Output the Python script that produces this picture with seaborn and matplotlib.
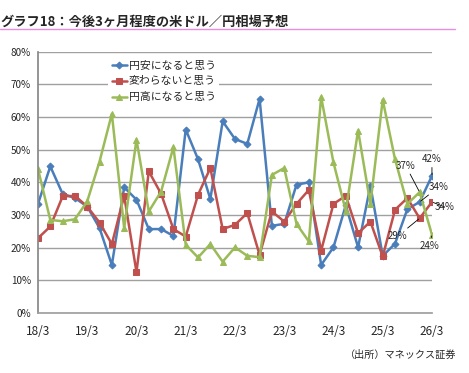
import numpy as np
import pandas as pd
import seaborn as sns
import matplotlib.pyplot as plt
from matplotlib.lines import Line2D

# quarterly survey, 18/3 .. 26/3
tick_labels = ['18/3', '19/3', '20/3', '21/3', '22/3', '23/3', '24/3', '25/3', '26/3']

yen_weak = [33.4, 44.9, 36.5, 35.2, 32.6, 26.0, 14.7, 38.5, 34.7, 25.7, 25.7,
            23.6, 56.2, 47.1, 34.9, 58.7, 53.3, 51.8, 65.6, 26.7, 27.3, 39.3,
            40.0, 14.7, 20.1, 33.0, 20.1, 39.0, 17.5, 21.2, 31.8, 34.0, 42.0]
no_change = [22.9, 26.5, 35.7, 35.9, 32.6, 27.7, 21.1, 35.9, 12.5, 43.4, 36.5,
             25.7, 23.4, 36.2, 44.4, 25.7, 27.0, 30.6, 17.8, 31.1, 28.0, 33.4,
             37.7, 19.1, 33.4, 35.9, 24.4, 28.0, 17.3, 31.6, 35.2, 29.0, 34.0]
yen_strong = [44.1, 28.5, 28.1, 28.7, 34.2, 46.4, 61.0, 26.0, 53.1, 31.1, 37.2,
              50.8, 20.9, 17.0, 21.1, 15.7, 20.1, 17.5, 17.1, 42.3, 44.4, 27.3,
              21.9, 66.2, 46.1, 31.3, 55.9, 33.4, 65.3, 47.1, 33.4, 37.0, 24.0]

series_names = ['円安になると思う', '変わらないと思う', '円高になると思う']
colors = ['#4a7ebb', '#c0504d', '#9bbb59']
markers = ['D', 's', '^']

x = np.arange(len(yen_weak))
df = pd.DataFrame({'x': x, series_names[0]: yen_weak,
                   series_names[1]: no_change, series_names[2]: yen_strong})

sns.set_theme(style='white')
plt.rcParams['font.family'] = ['Noto Sans CJK JP', 'DejaVu Sans']

fig = plt.figure(figsize=(4.69, 3.73), dpi=100)
ax = fig.add_axes([0.081, 0.161, 0.840, 0.700])

for name, c, m in zip(series_names, colors, markers):
    ms = 4 if m != 'D' else 3.5
    sns.lineplot(data=df, x='x', y=name, color=c, marker=m, markersize=ms,
                 markeredgecolor=c, linewidth=1.8, label=name, ax=ax)

ax.set_xlim(0, len(x) - 1)
ax.set_ylim(0, 80)
ax.set_yticks(range(0, 81, 10))
ax.set_yticklabels([f'{v}%' for v in range(0, 81, 10)], fontsize=7.2)
ax.set_xticks(range(0, len(x), 4))
ax.set_xticklabels(tick_labels, fontsize=8.5)
ax.set_xlabel('')
ax.set_ylabel('')
ax.yaxis.grid(True, color='#a0a0a0', linewidth=1.0)
ax.set_axisbelow(True)
for s in ['top', 'right']:
    ax.spines[s].set_visible(False)
ax.spines['left'].set_color('#888888')
ax.spines['bottom'].set_color('#a0a0a0')
ax.tick_params(axis='both', which='both', direction='out', length=3,
               width=0.8, color='#888888', pad=2)
ax.tick_params(axis='x', pad=6)

leg = ax.legend(loc='upper left', bbox_to_anchor=(0.165, 1.0), frameon=True,
                fontsize=7.8, handlelength=1.4, handletextpad=0.2,
                labelspacing=0.55, borderpad=0.3)
leg.get_frame().set_facecolor('white')
leg.get_frame().set_edgecolor('none')
leg.get_frame().set_alpha(1)

# value labels for the latest two surveys
last, prev = len(x) - 1, len(x) - 2
arrow = dict(arrowstyle='-', color='black', lw=0.6, shrinkA=0, shrinkB=1)
notes = [
    (last, yen_weak[last], (0, 12)),
    (prev, yen_weak[prev], (14, 11)),
    (prev, yen_strong[prev], (-10, 19)),
    (last, no_change[last], (9, -3.5)),
    (prev, no_change[prev], (-16, -13)),
    (last, yen_strong[last], (-1.5, -8)),
]
for xi, yi, off in notes:
    ax.annotate(f'{yi:.0f}%', xy=(xi, yi), xytext=off, textcoords='offset points',
                ha='center', va='center', fontsize=7, arrowprops=arrow,
                annotation_clip=False)

fig.text(0.0, 0.941, 'グラフ18：今後3ヶ月程度の米ドル／円相場予想',
         fontsize=9.5, fontweight='bold', ha='left', va='center')
fig.add_artist(Line2D([0.0, 0.97], [0.922, 0.922], color='#e88ee0', lw=1.0,
                      transform=fig.transFigure))
fig.text(0.974, 0.048, '（出所）マネックス証券', fontsize=7.3, ha='right', va='center')

fig.savefig('out.png', dpi=100)
